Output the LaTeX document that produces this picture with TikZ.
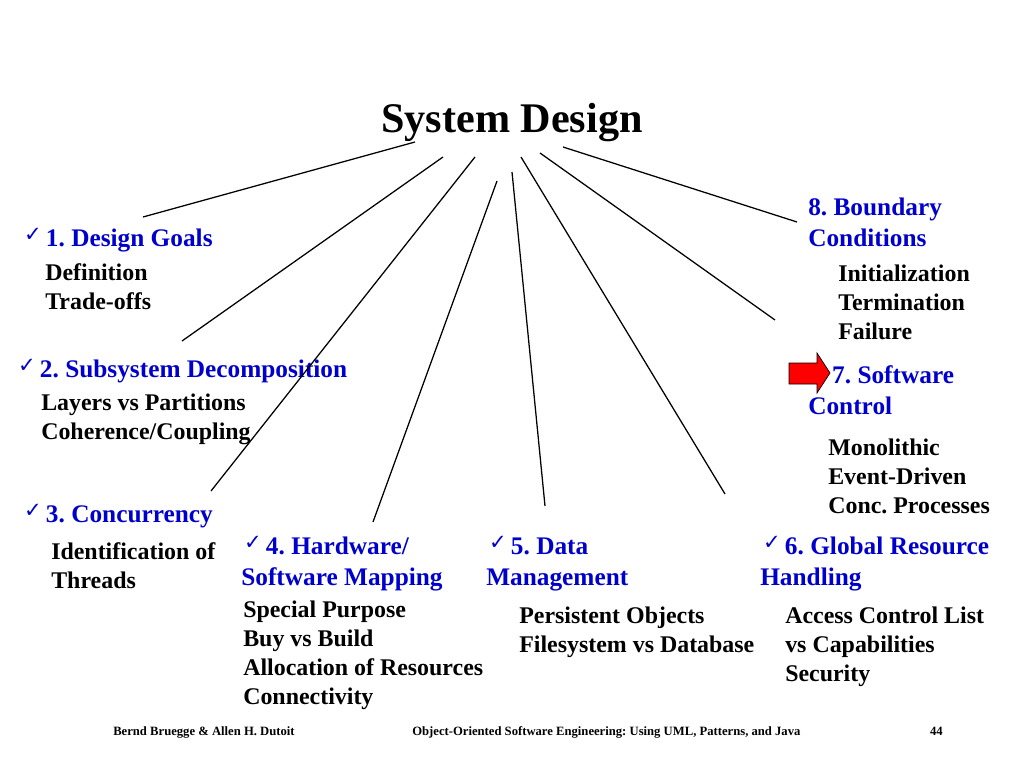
\documentclass[tikz,border=0pt]{standalone}
\usepackage{fontspec}
\setmainfont[Ligatures=Common]{Liberation Serif}
\newfontfamily\symfont{DejaVu Sans}
\definecolor{headblue}{RGB}{0,0,204}
\frenchspacing
\newcommand{\chk}{\hspace*{2pt}{\symfont\fontsize{15}{15}\selectfont\raisebox{3pt}{✓}}\,}
\tikzstyle{heading} = [anchor=base west, inner sep=0pt, align=left, text=headblue, font=\fontsize{18}{22}\selectfont\bfseries]
\tikzstyle{item} = [anchor=base west, inner sep=0pt, align=left, font=\fontsize{17}{20.6}\selectfont\bfseries]
\tikzstyle{footer} = [anchor=base west, inner sep=0pt, font=\fontsize{9}{11}\selectfont\bfseries]
\tikzstyle{line} = [draw, line width=0.9pt]

\begin{document}
\begin{tikzpicture}[x=0.025cm, y=-0.025cm]
    \useasboundingbox (0,0) rectangle (1024,768);

    % title
    \node [anchor=base, inner sep=0pt, font=\fontsize{30}{36}\selectfont\bfseries
            ] (title) at (512,133) {System Design};

    % 1. Design Goals (multi-line nodes sit on their last baseline)
    \node [heading] (goals) at (21,246) {\chk 1. Design Goals};
    \node [item] (goalsitems) at (45,309) {Definition\\Trade-offs};

    % 2. Subsystem Decomposition
    \node [heading] (subsys) at (15,377) {\chk 2. Subsystem Decomposition};
    \node [item] (subsysitems) at (41,439) {Layers vs Partitions\\Coherence/Coupling};

    % 3. Concurrency
    \node [heading] (conc) at (21,522) {\chk 3. Concurrency};
    \node [item] (concitems) at (51,588) {Identification of\\Threads};

    % 4. Hardware/Software Mapping
    \node [heading] (hwsw) at (241,585) {\chk 4. Hardware/\\Software Mapping};
    \node [item] (hwswitems) at (243,704) {Special Purpose\\Buy vs Build\\Allocation of Resources\\Connectivity};

    % 5. Data Management
    \node [heading] (data) at (486,585) {\chk 5. Data\\Management};
    \node [item] (dataitems) at (519,652) {Persistent Objects\\Filesystem vs Database};

    % 6. Global Resource Handling
    \node [heading] (global) at (760,585) {\chk 6. Global Resource\\Handling};
    \node [item] (globalitems) at (785,681) {Access Control List\\vs Capabilities\\Security};

    % 7. Software Control
    \node [heading] (control) at (808,414) {\hspace*{17pt}7. Software\\Control};
    \node [item] (controlitems) at (828,513) {Monolithic\\Event-Driven\\Conc. Processes};

    % 8. Boundary Conditions
    \node [heading] (boundary) at (808,246) {8. Boundary\\Conditions};
    \node [item] (boundaryitems) at (838,339) {Initialization\\Termination\\Failure};

    % red pointer
    \draw [fill=red, line width=0.5pt] (789,363) -- (817,363) -- (817,353) -- (830,373)
        -- (817,393) -- (817,384) -- (789,384) -- cycle;

    % line ends
    \coordinate (t1) at (415,142);  \coordinate (e1) at (143,217);
    \coordinate (t2) at (443,157);  \coordinate (e2) at (182,341);
    \coordinate (t3) at (475,157);  \coordinate (e3) at (211,491);
    \coordinate (t4) at (497,181);  \coordinate (e4) at (373,522);
    \coordinate (t5) at (512,172);  \coordinate (e5) at (545,506);
    \coordinate (t6) at (521,157);  \coordinate (e6) at (725,494);
    \coordinate (t7) at (540,153);  \coordinate (e7) at (775,320);
    \coordinate (t8) at (563,147);  \coordinate (e8) at (797,222);

    % Path
    \path[line] (t1) -- (e1);
    \path[line] (t2) -- (e2);
    \path[line] (t3) -- (e3);
    \path[line] (t4) -- (e4);
    \path[line] (t5) -- (e5);
    \path[line] (t6) -- (e6);
    \path[line] (t7) -- (e7);
    \path[line] (t8) -- (e8);

    % footer
    \node [footer] (authors) at (113,735) {Bernd Bruegge \& Allen H. Dutoit};
    \node [footer] (book) at (412,735) {Object-Oriented Software Engineering: Using UML, Patterns, and Java};
    \node [footer, anchor=base east] (page) at (943,735) {44};

\end{tikzpicture}
\end{document}
